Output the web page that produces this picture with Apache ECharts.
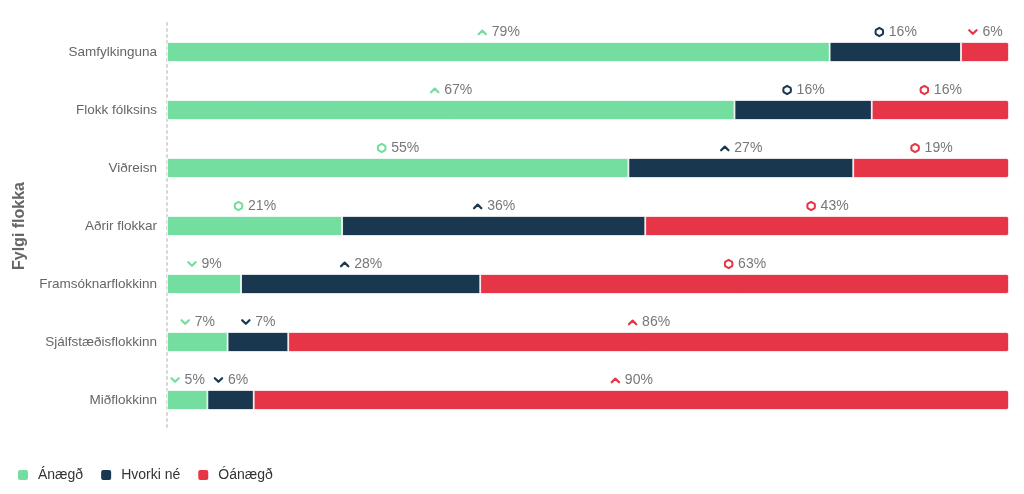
<!DOCTYPE html>
<html>
<head>
<meta charset="utf-8">
<script src="https://cdn.jsdelivr.net/npm/echarts@6/dist/echarts.min.js"></script>
<style>html,body{margin:0;padding:0;background:#fff;}#c{width:1024px;height:494px;}</style>
</head>
<body>
<div id="c"></div>
<script>
const categories = ['Samfylkinguna','Flokk fólksins','Viðreisn','Aðrir flokkar','Framsóknarflokkinn','Sjálfstæðisflokkinn','Miðflokkinn'];
const seriesNames = ['Ánægð','Hvorki né','Óánægð'];
const satisfied = [78.7, 67.4, 54.8, 20.8, 8.8, 7.2, 4.8];
const neither = [15.6, 16.3, 26.7, 36.0, 28.4, 7.2, 5.5];
const dissatisfied = [5.7, 16.3, 18.5, 43.2, 62.8, 85.6, 89.7];
const satisfiedTrend = ['up','up','flat','flat','down','down','down'];
const neitherTrend = ['flat','flat','up','up','up','down','down'];
const dissatisfiedTrend = ['down','flat','flat','flat','flat','up','up'];
const colors = ['#74DEA1','#19374F','#E63546'];
const FONT = 'Liberation Sans, Arial, sans-serif';

function icon(shape, color){
  let body;
  if(shape==='up') body = '<polyline points="2,8.5 6,4.5 10,8.5" fill="none" stroke="'+color+'" stroke-width="2.4" stroke-linecap="round" stroke-linejoin="round"/>';
  else if(shape==='down') body = '<polyline points="2,4 6,8 10,4" fill="none" stroke="'+color+'" stroke-width="2.4" stroke-linecap="round" stroke-linejoin="round"/>';
  else body = '<polygon points="6,1.4 9.8,3.6 10.2,6 9.8,8.4 6,10.6 2.2,8.4 1.8,6 2.2,3.6" fill="none" stroke="'+color+'" stroke-width="2.2" stroke-linejoin="round"/>';
  const svg = '<svg xmlns="http://www.w3.org/2000/svg" width="12" height="12" viewBox="0 0 12 12">'+body+'</svg>';
  return 'data:image/svg+xml;charset=utf-8,' + encodeURIComponent(svg);
}

function makeRich(color){
  const r = {t:{color:'#777', fontSize:14, fontFamily:FONT, padding:[0,0,0,4]}};
  ['up','down','flat'].forEach(s=>{ r[s] = {width:11, height:11, backgroundColor:{image:icon(s,color)}}; });
  return r;
}

const values = [satisfied, neither, dissatisfied];
const trends = [satisfiedTrend, neitherTrend, dissatisfiedTrend];

const series = values.map((vals, si) => ({
  name: seriesNames[si],
  type: 'bar',
  stack: 'total',
  barWidth: 20,
  data: vals,
  itemStyle: {
    color: colors[si],
    borderColor: '#ffffff',
    borderWidth: 0.8,
    borderRadius: si===2 ? [0,2,2,0] : 0
  },
  label: {
    show: true,
    position: 'top',
    distance: 3,
    formatter: p => '{' + trends[si][p.dataIndex] + '|}{t|' + Math.round(p.value) + '%}',
    rich: makeRich(colors[si])
  },
  emphasis: {disabled: true}
}));

const chart = echarts.init(document.getElementById('c'));
chart.setOption({
  animation: false,
  color: colors,
  grid: {left: 167, right: 15, top: 23, bottom: 65, containLabel: false, outerBoundsMode: 'none'},
  xAxis: {type:'value', min:0, max:100, show:false},
  yAxis: {
    type: 'category',
    data: categories,
    inverse: true,
    name: 'Fylgi flokka',
    nameLocation: 'middle',
    nameGap: 139,
    nameRotate: 90,
    nameTextStyle: {color:'#666', fontSize:16, fontWeight:'bold', fontFamily:FONT},
    axisLine: {show:true, lineStyle:{color:'#d6d6d6', type:[2,4], width:2}},
    axisTick: {show:false},
    axisLabel: {color:'#666', fontSize:13.5, margin:10, fontFamily:FONT},
    splitLine: {show:false}
  },
  legend: {
    left: 11, bottom: 7,
    icon: 'roundRect',
    itemWidth: 12, itemHeight: 12,
    itemGap: 16,
    textStyle: {color:'#333', fontSize:14, padding:[0,0,0,4], fontFamily:FONT},
    data: seriesNames
  },
  series: series
});
</script>
</body>
</html>
